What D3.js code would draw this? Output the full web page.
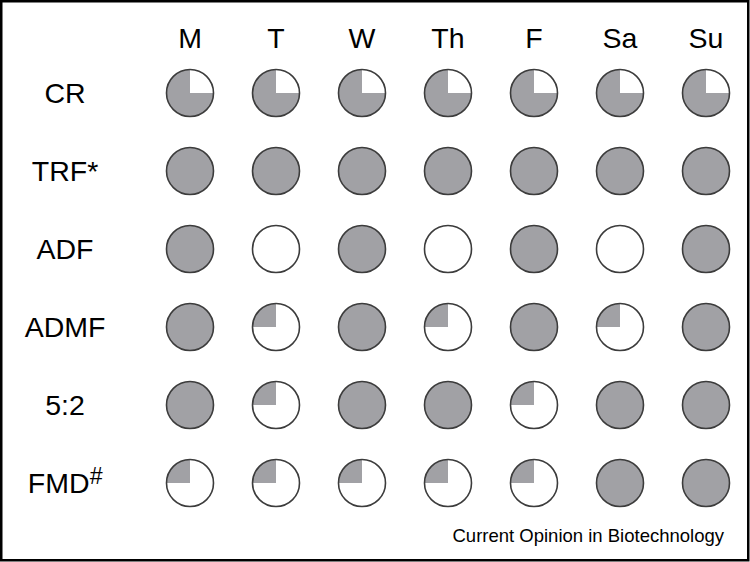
<!DOCTYPE html>
<html>
<head>
<meta charset="utf-8">
<script src="https://cdn.jsdelivr.net/npm/d3@7"></script>
<style>
  body { margin: 0; background: #fff; }
  svg text { font-family: 'Liberation Sans', Arial, Helvetica, sans-serif; fill: #000; }
</style>
</head>
<body>
<div id="chart"></div>
<script>
const days = ['M', 'T', 'W', 'Th', 'F', 'Sa', 'Su']
const regimens = ['CR', 'TRF', 'ADF', 'ADMF', '5:2', 'FMD']
const marks = { TRF: '*', FMD: '#' }
// share of a normal day's intake (grey part of each circle)
const crIntake   = [0.75, 0.75, 0.75, 0.75, 0.75, 0.75, 0.75]
const trfIntake  = [1, 1, 1, 1, 1, 1, 1]
const adfIntake  = [1, 0, 1, 0, 1, 0, 1]
const admfIntake = [1, 0.25, 1, 0.25, 1, 0.25, 1]
const fiveTwo    = [1, 0.25, 1, 1, 0.25, 1, 1]
const fmdIntake  = [0.25, 0.25, 0.25, 0.25, 0.25, 1, 1]
const intake = [crIntake, trfIntake, adfIntake, admfIntake, fiveTwo, fmdIntake]
const source = 'Current Opinion in Biotechnology'

const width = 750, height = 562
const r = 23.5

const svg = d3.select('#chart').append('svg')
  .attr('width', width)
  .attr('height', height)

svg.append('rect')
  .attr('x', 1.25).attr('y', 1.25)
  .attr('width', 747).attr('height', 559)
  .style('fill', '#fff')
  .style('stroke', '#000')
  .style('stroke-width', 2.5)

const x = d3.scalePoint().domain(days).range([190, 706])
const y = d3.scalePoint().domain(regimens).range([93, 483])

// column headers
svg.append('g').selectAll('text')
  .data(days)
  .join('text')
    .attr('x', d => x(d))
    .attr('y', 48)
    .attr('text-anchor', 'middle')
    .style('font-size', '28.5px')
    .text(d => d)

// row labels
const rowLabels = svg.append('g').selectAll('text')
  .data(regimens)
  .join('text')
    .attr('x', 65)
    .attr('y', d => y(d) + 10)
    .attr('text-anchor', 'middle')
    .style('font-size', '28.5px')
rowLabels.append('tspan').text(d => d)
rowLabels.filter(d => marks[d] === '*').append('tspan').text('*')
rowLabels.filter(d => marks[d] === '#').append('tspan')
  .attr('dy', -9)
  .style('font-size', '23px')
  .style('font-style', 'italic')
  .text('#')

const arc = d3.arc().innerRadius(0).outerRadius(r)

const cells = []
regimens.forEach((reg, i) => {
  days.forEach((day, j) => cells.push({ reg, day, v: intake[i][j] }))
})

const glyph = svg.append('g').selectAll('g')
  .data(cells)
  .join('g')
    .attr('transform', d => `translate(${x(d.day)},${y(d.reg)})`)

glyph.append('circle')
  .attr('r', r)
  .style('fill', d => d.v >= 1 ? '#a1a1a5' : '#fff')

glyph.filter(d => d.v > 0 && d.v < 1).append('path')
  .attr('d', d => arc({ startAngle: 2 * Math.PI * (1 - d.v), endAngle: 2 * Math.PI }))
  .style('fill', '#a1a1a5')

glyph.append('circle')
  .attr('r', r)
  .style('fill', 'none')
  .style('stroke', '#3c3c3c')
  .style('stroke-width', 1.6)

svg.append('text')
  .attr('x', 724)
  .attr('y', 542)
  .attr('text-anchor', 'end')
  .style('font-size', '18.5px')
  .text(source)
</script>
</body>
</html>
